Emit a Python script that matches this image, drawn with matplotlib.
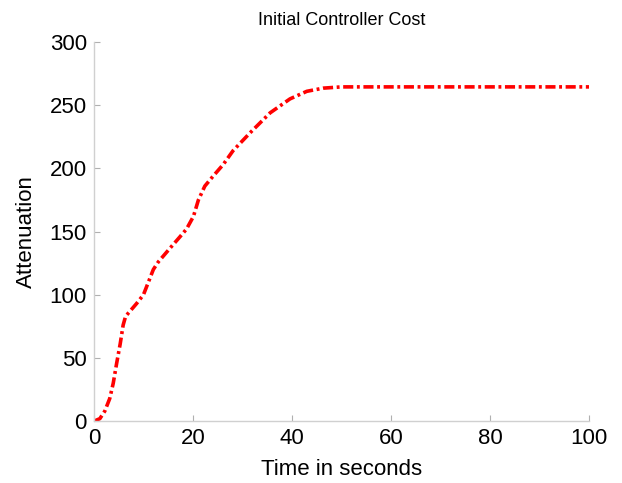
import numpy as np
import matplotlib.pyplot as plt

plt.rcParams['font.family'] = ['Liberation Sans', 'DejaVu Sans']

# Data
time = [0, 1.2, 2.2, 3.2, 3.9, 4.6, 5.3, 5.9, 6.4, 7.5, 8.6, 10, 11.3, 12, 13,
        15.4, 17.4, 18.7, 20.1, 21.1, 22.4, 24.1, 26.1, 28.1, 31.5, 35.6,
        39.6, 43, 46.3, 50, 53, 60, 70, 80, 90, 100]
attenuation = [0, 2, 8, 18, 30, 46, 61, 76, 83, 88, 93, 100, 113, 120, 126,
               137, 146, 152, 162, 175, 186, 194, 203, 214, 228, 244,
               255, 261, 263.5, 264.5, 264.5, 264.5, 264.5, 264.5, 264.5, 264.5]

fig = plt.figure(figsize=(6.22, 4.83), dpi=100)
ax = fig.add_axes([0.151, 0.128, 0.796, 0.785])

ax.plot(time, attenuation, color='red', linewidth=2.6,
        linestyle=(0, (2.8, 1.0, 0.8, 1.0)), dash_capstyle='butt')

ax.set_xlim(0, 100)
ax.set_ylim(0, 300)
ax.set_xticks([0, 20, 40, 60, 80, 100])
ax.set_yticks([0, 50, 100, 150, 200, 250, 300])

for side in ['top', 'right']:
    ax.spines[side].set_visible(False)
for side in ['left', 'bottom']:
    ax.spines[side].set_color('#d0d0d0')
    ax.spines[side].set_linewidth(1.0)
ax.tick_params(direction='in', length=4, color='#b0b0b0', labelsize=16, pad=5)

ax.set_title('Initial Controller Cost', fontsize=13, pad=12)
ax.set_xlabel('Time in seconds', fontsize=16, labelpad=7)
ax.set_ylabel('Attenuation', fontsize=16, labelpad=9)

fig.savefig('out.png', dpi=100)
